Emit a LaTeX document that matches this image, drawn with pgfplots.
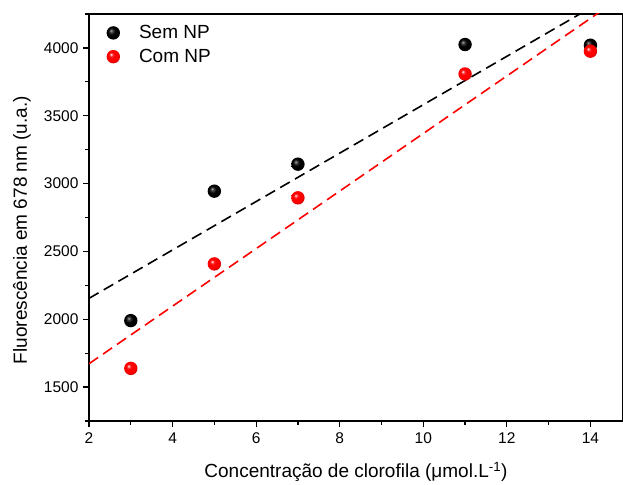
\documentclass[border=0pt]{standalone}
\usepackage{pgfplots}
\pgfplotsset{compat=1.18}
\usepackage{fontspec}
\setmainfont{Liberation Sans}
\pgfdeclareradialshading{myredball}{\pgfpoint{-9bp}{9bp}}{color(0bp)=(white); color(6bp)=(red!80!white); color(11bp)=(red); color(22bp)=(red); color(28bp)=(red!80!black); color(50bp)=(red!60!black)}
\pgfdeclareradialshading{myblackball}{\pgfpoint{-9bp}{9bp}}{color(0bp)=(black!35); color(7bp)=(black!80); color(14bp)=(black); color(50bp)=(black)}
\pgfdeclareplotmark{redball}{\pgfpathcircle{\pgfpointorigin}{\pgfplotmarksize}\pgfshadepath{myredball}{0}\pgfusepath{}}
\pgfdeclareplotmark{blackball}{\pgfpathcircle{\pgfpointorigin}{\pgfplotmarksize}\pgfshadepath{myblackball}{0}\pgfusepath{}}
\begin{document}
\begin{tikzpicture}
\path[use as bounding box] (-89pt,-63pt) rectangle (534pt,421pt);
\begin{axis}[
  at={(0,0)}, anchor=south west,
  scale only axis, width=534pt, height=407pt,
  xmin=2, xmax=14.78, ymin=1250, ymax=4250,
  xtick={2,4,...,14}, minor xtick={3,5,...,13},
  ytick={1500,2000,...,4000}, minor ytick={1250,1750,...,4250},
  tick align=outside, xtick pos=bottom, ytick pos=left,
  major tick length=6pt, minor tick length=3.5pt,
  every tick/.style={black, line width=1.2pt},
  axis line style={line width=1.4pt},
  /pgf/number format/assume math mode=true,
  /pgf/number format/1000 sep={},
  tick label style={font=\fontsize{15.5}{18}\selectfont},
  xticklabel style={yshift=-2pt},
  yticklabel style={xshift=-1pt},
  label style={font=\fontsize{19}{22}\selectfont},
  xlabel={Concentração de clorofila (μmol.L\textsuperscript{-1})},
  xlabel style={at={(axis description cs:0.5,-0.139)}, anchor=base},
  ylabel={Fluorescência em 678 nm (u.a.)},
  ylabel style={at={(axis description cs:-0.1086,0.469)}, anchor=south, inner sep=0pt},
  legend style={draw=none, fill=none, at={(0.027,0.982)}, anchor=north west,
    font=\fontsize{19}{22}\selectfont, row sep=5pt, column sep=17pt},
  legend cell align=left,
  clip=true,
]
\addplot[only marks, mark=blackball, mark size=6.7pt] coordinates {
 (3,1990) (5,2944) (7,3143) (11,4025) (14,4020)};
\addlegendentry{Sem NP}
\addplot[only marks, mark=redball, mark size=6.7pt] coordinates {
 (3,1638) (5,2408) (7,2895) (11,3808) (14,3976)};
\addlegendentry{Com NP}
\addplot[black, line width=1.6pt, dash pattern=on 11pt off 6pt, forget plot] coordinates {(2,2154) (14.78,4434)};
\addplot[red, line width=1.6pt, dash pattern=on 11pt off 6pt, forget plot] coordinates {(2,1672) (14.78,4383)};
\end{axis}
\end{tikzpicture}
\end{document}
